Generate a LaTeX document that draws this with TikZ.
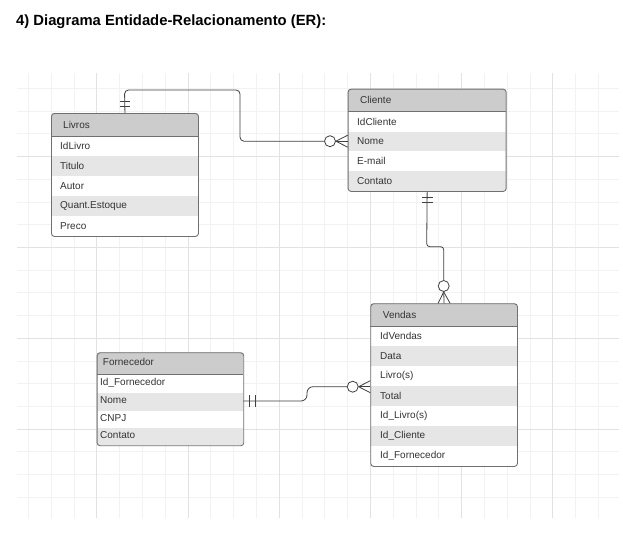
\documentclass[tikz,border=0pt]{standalone}
\usepackage{fontspec}
\setmainfont{Liberation Sans}
\usetikzlibrary{calc}
\definecolor{gmin}{HTML}{F2F2F2}
\definecolor{gmaj}{HTML}{E2E2E2}
\definecolor{hdrc}{HTML}{CCCCCC}
\definecolor{rowc}{HTML}{E6E6E6}
\definecolor{bord}{HTML}{707070}
\definecolor{txtc}{HTML}{333333}
\definecolor{linec}{HTML}{404040}
\begin{document}
\begin{tikzpicture}[x=1pt,y=-1pt,
  box/.style={draw=bord, line width=0.9pt, rounded corners=3pt, rectangle, inner sep=0pt, anchor=north west},
  ftext/.style={font=\fontsize{10}{12}\selectfont, text=txtc, inner sep=0pt, anchor=west},
  conn/.style={draw=linec, line width=0.8pt},
  ocirc/.style={circle, draw=linec, line width=0.8pt, fill=white, minimum size=11pt, inner sep=0pt},
  hsep/.style={draw=bord, line width=0.6pt}
]
\useasboundingbox (0,0) rectangle (623,557);
\fill[white] (0,0) rectangle (623,557);
% grid
\foreach \k in {0,...,25}{
  \pgfmathsetmacro\xx{28.4+22.8*\k}
  \draw[gmin, line width=0.7pt] (\xx,73) -- (\xx,518);
}
\foreach \j in {0,...,18}{
  \pgfmathsetmacro\yy{88.3+22.72*\j}
  \draw[gmin, line width=0.7pt] (17,\yy) -- (619,\yy);
}
\foreach \k in {3,7,11,15,19,23}{
  \pgfmathsetmacro\xx{28.4+22.8*\k}
  \draw[gmaj, line width=0.7pt] (\xx,73) -- (\xx,518);
}
\foreach \j in {3,7,11,15}{
  \pgfmathsetmacro\yy{88.3+22.72*\j}
  \draw[gmaj, line width=0.7pt] (17,\yy) -- (619,\yy);
}
% title
\node[font=\fontsize{14.8}{17}\selectfont\bfseries, anchor=base west, inner sep=0pt] (title) at (16,25.7) {4) Diagrama Entidade-Relacionamento (ER):};

% ---------- Livros
\begin{scope}
  \clip[rounded corners=3pt] (51,113) rectangle (198,236);
  \fill[white] (51,113) rectangle (198,236);
  \fill[hdrc] (51,113) rectangle (198,136);
  \fill[rowc] (51,156) rectangle (198,176);
  \fill[rowc] (51,196) rectangle (198,216);
\end{scope}
\draw[hsep] (51,136) -- (198,136);
\node[box, minimum width=147pt, minimum height=123pt] (livros) at (51,113) {};
\node[ftext] (lHead) at (63,124.5) {Livros};
\node[ftext] (lId) at (60,146) {IdLivro};
\node[ftext] (lTit) at (60,166) {Titulo};
\node[ftext] (lAut) at (60,186) {Autor};
\node[ftext] (lQt) at (60,206) {Quant.Estoque};
\node[ftext] (lPre) at (60,226) {Preco};

% ---------- Cliente
\begin{scope}
  \clip[rounded corners=3pt] (347.7,88.7) rectangle (505.7,191);
  \fill[white] (347.7,88.7) rectangle (505.7,191);
  \fill[hdrc] (347.7,88.7) rectangle (505.7,111.7);
  \fill[rowc] (347.7,131.5) rectangle (505.7,151.3);
  \fill[rowc] (347.7,171.2) rectangle (505.7,191);
\end{scope}
\draw[hsep] (347.7,111.7) -- (505.7,111.7);
\node[box, minimum width=158pt, minimum height=102.3pt] (cliente) at (347.7,88.7) {};
\node[ftext] (cHead) at (360,100.2) {Cliente};
\node[ftext] (cId) at (357,121.6) {IdCliente};
\node[ftext] (cNome) at (357,141.4) {Nome};
\node[ftext] (cMail) at (357,161.2) {E-mail};
\node[ftext] (cCont) at (357,181.1) {Contato};

% ---------- Vendas
\begin{scope}
  \clip[rounded corners=3pt] (370.3,303.3) rectangle (517,466);
  \fill[white] (370.3,303.3) rectangle (517,466);
  \fill[hdrc] (370.3,303.3) rectangle (517,326);
  \fill[rowc] (370.3,346) rectangle (517,366);
  \fill[rowc] (370.3,386) rectangle (517,406);
  \fill[rowc] (370.3,426) rectangle (517,446);
\end{scope}
\draw[hsep] (370.3,326) -- (517,326);
\node[box, minimum width=146.7pt, minimum height=162.7pt] (vendas) at (370.3,303.3) {};
\node[ftext] (vHead) at (382.7,314.7) {Vendas};
\node[ftext] (vId) at (380,336) {IdVendas};
\node[ftext] (vData) at (380,356) {Data};
\node[ftext] (vLiv) at (380,376) {Livro(s)};
\node[ftext] (vTot) at (380,396) {Total};
\node[ftext] (vIdL) at (380,416) {Id\_Livro(s)};
\node[ftext] (vIdC) at (380,436) {Id\_Cliente};
\node[ftext] (vIdF) at (380,456) {Id\_Fornecedor};

% ---------- Fornecedor
\begin{scope}
  \clip[rounded corners=3pt] (96.7,352.3) rectangle (243.3,445.3);
  \fill[white] (96.7,352.3) rectangle (243.3,445.3);
  \fill[hdrc] (96.7,352.3) rectangle (243.3,374.3);
  \fill[rowc] (96.7,393.3) rectangle (243.3,410.7);
  \fill[rowc] (96.7,427.7) rectangle (243.3,445.3);
\end{scope}
\draw[hsep] (96.7,374.3) -- (243.3,374.3);
\node[box, minimum width=146.6pt, minimum height=93pt] (forn) at (96.7,352.3) {};
\node[ftext] (fHead) at (102.7,362.3) {Fornecedor};
\node[ftext] (fId) at (100,383) {Id\_Fornecedor};
\node[ftext] (fNome) at (100,400.5) {Nome};
\node[ftext] (fCnpj) at (100,418) {CNPJ};
\node[ftext] (fCont) at (100,435.5) {Contato};

% ---------- connector Livros - Cliente
\node[ocirc] (o1) at (330,141.2) {};
\coordinate (c1end) at (347.7,141.2);
\draw[conn, rounded corners=4pt] (livros.north) -- (124.5,90) -- (240,90) -- (240,141.2) -- (o1.west);
\draw[conn] (o1.east) -- (c1end);
\draw[conn] (o1.east) -- ($(c1end)+(0,-6)$);
\draw[conn] (o1.east) -- ($(c1end)+(0,6)$);
\draw[conn] ($(livros.north)+(-5,-11.3)$) -- ++(10,0);
\draw[conn] ($(livros.north)+(-5,-7)$) -- ++(10,0);

% ---------- connector Cliente - Vendas
\node[ocirc] (o2) at (443.7,286) {};
\draw[conn, rounded corners=3pt] (cliente.south) -- (426.7,246.7) -- (443.7,246.7) -- (o2.north);
\draw[conn] (o2.south) -- (vendas.north);
\draw[conn] (o2.south) -- ($(vendas.north)+(-6,0)$);
\draw[conn] (o2.south) -- ($(vendas.north)+(6,0)$);
\draw[conn] ($(cliente.south)+(-5.5,5.7)$) -- ++(11,0);
\draw[conn] ($(cliente.south)+(-5.5,10.7)$) -- ++(11,0);

% ---------- connector Fornecedor - Vendas
\node[ocirc] (o3) at (352.7,386.7) {};
\coordinate (f1) at (243.3,401);
\coordinate (c3end) at (370.3,386.7);
\draw[conn, rounded corners=6pt] (f1) -- (307,401) -- (307,386.7) -- (o3.west);
\draw[conn] (o3.east) -- (c3end);
\draw[conn] (o3.east) -- ($(c3end)+(0,-6)$);
\draw[conn] (o3.east) -- ($(c3end)+(0,6)$);
\draw[conn] ($(f1)+(5.7,-6)$) -- ++(0,12);
\draw[conn] ($(f1)+(11.7,-6)$) -- ++(0,12);
\end{tikzpicture}
\end{document}
